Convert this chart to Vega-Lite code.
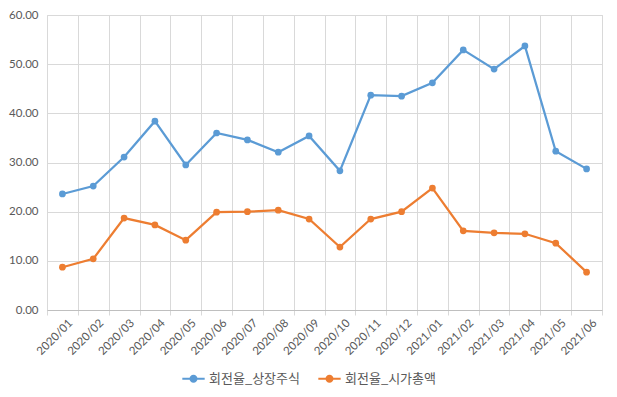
{
  "$schema": "https://vega.github.io/schema/vega-lite/v6.json",
  "width": 555,
  "height": 295,
  "autosize": {"type": "none"},
  "padding": {"left": 47, "top": 15, "right": 15, "bottom": 87},
  "background": "white",
  "config": {
    "view": {"stroke": "#d9d9d9", "strokeWidth": 1},
    "font": "Lato",
    "axis": {"labelColor": "#595959", "labelFontSize": 11.5, "labelFont": "Lato", "gridColor": "#d9d9d9", "gridWidth": 1, "domainColor": "#d9d9d9", "tickColor": "#d9d9d9", "title": null}
  },
  "data": {
    "values": [
      {"month": "2020/01", "series": "회전율_상장주식", "value": 23.6},
      {"month": "2020/02", "series": "회전율_상장주식", "value": 25.2},
      {"month": "2020/03", "series": "회전율_상장주식", "value": 31.1},
      {"month": "2020/04", "series": "회전율_상장주식", "value": 38.4},
      {"month": "2020/05", "series": "회전율_상장주식", "value": 29.5},
      {"month": "2020/06", "series": "회전율_상장주식", "value": 36.0},
      {"month": "2020/07", "series": "회전율_상장주식", "value": 34.6},
      {"month": "2020/08", "series": "회전율_상장주식", "value": 32.1},
      {"month": "2020/09", "series": "회전율_상장주식", "value": 35.4},
      {"month": "2020/10", "series": "회전율_상장주식", "value": 28.3},
      {"month": "2020/11", "series": "회전율_상장주식", "value": 43.7},
      {"month": "2020/12", "series": "회전율_상장주식", "value": 43.5},
      {"month": "2021/01", "series": "회전율_상장주식", "value": 46.2},
      {"month": "2021/02", "series": "회전율_상장주식", "value": 52.9},
      {"month": "2021/03", "series": "회전율_상장주식", "value": 49.0},
      {"month": "2021/04", "series": "회전율_상장주식", "value": 53.7},
      {"month": "2021/05", "series": "회전율_상장주식", "value": 32.3},
      {"month": "2021/06", "series": "회전율_상장주식", "value": 28.7},
      {"month": "2020/01", "series": "회전율_시가총액", "value": 8.7},
      {"month": "2020/02", "series": "회전율_시가총액", "value": 10.4},
      {"month": "2020/03", "series": "회전율_시가총액", "value": 18.7},
      {"month": "2020/04", "series": "회전율_시가총액", "value": 17.3},
      {"month": "2020/05", "series": "회전율_시가총액", "value": 14.2},
      {"month": "2020/06", "series": "회전율_시가총액", "value": 19.9},
      {"month": "2020/07", "series": "회전율_시가총액", "value": 20.0},
      {"month": "2020/08", "series": "회전율_시가총액", "value": 20.3},
      {"month": "2020/09", "series": "회전율_시가총액", "value": 18.5},
      {"month": "2020/10", "series": "회전율_시가총액", "value": 12.8},
      {"month": "2020/11", "series": "회전율_시가총액", "value": 18.5},
      {"month": "2020/12", "series": "회전율_시가총액", "value": 20.0},
      {"month": "2021/01", "series": "회전율_시가총액", "value": 24.8},
      {"month": "2021/02", "series": "회전율_시가총액", "value": 16.1},
      {"month": "2021/03", "series": "회전율_시가총액", "value": 15.7},
      {"month": "2021/04", "series": "회전율_시가총액", "value": 15.5},
      {"month": "2021/05", "series": "회전율_시가총액", "value": 13.6},
      {"month": "2021/06", "series": "회전율_시가총액", "value": 7.7}
    ]
  },
  "mark": {"type": "line", "strokeWidth": 2.25, "point": {"filled": true, "size": 45, "opacity": 1}},
  "encoding": {
    "x": {
      "field": "month", "type": "ordinal",
      "scale": {"type": "band", "paddingInner": 0, "paddingOuter": 0},
      "axis": {"labelAngle": -45, "labelAlign": "right", "labelBaseline": "top", "labelPadding": 2, "tickBand": "extent", "grid": true, "ticks": true, "tickSize": 5, "domainColor": "#bfbfbf", "labelOffset": 4}
    },
    "y": {
      "field": "value", "type": "quantitative",
      "scale": {"domain": [0, 60], "nice": false, "zero": true},
      "axis": {"values": [0, 10, 20, 30, 40, 50, 60], "format": ".2f", "ticks": false, "domain": false, "labelPadding": 9}
    },
    "color": {
      "field": "series", "type": "nominal",
      "scale": {"domain": ["회전율_상장주식", "회전율_시가총액"], "range": ["#5B9BD5", "#ED7D31"]},
      "legend": {
        "title": null,
        "orient": "none",
        "direction": "horizontal",
        "legendX": 135,
        "legendY": 352,
        "labelFont": "Noto Sans CJK KR",
        "labelFontSize": 13,
        "labelColor": "#595959",
        "columnPadding": 18,
        "symbolSize": 500,
        "symbolType": "M-1,-0.09 L1,-0.09 L1,0.09 L-1,0.09 Z M-0.36,0 A0.36,0.36 0 1,1 0.36,0 A0.36,0.36 0 1,1 -0.36,0 Z",
        "labelOffset": 4,
        "encode": {"symbols": {"update": {"fill": {"scale": "color", "field": "value"}, "strokeWidth": {"value": 0}, "opacity": {"value": 1}}}}
      }
    }
  }
}
